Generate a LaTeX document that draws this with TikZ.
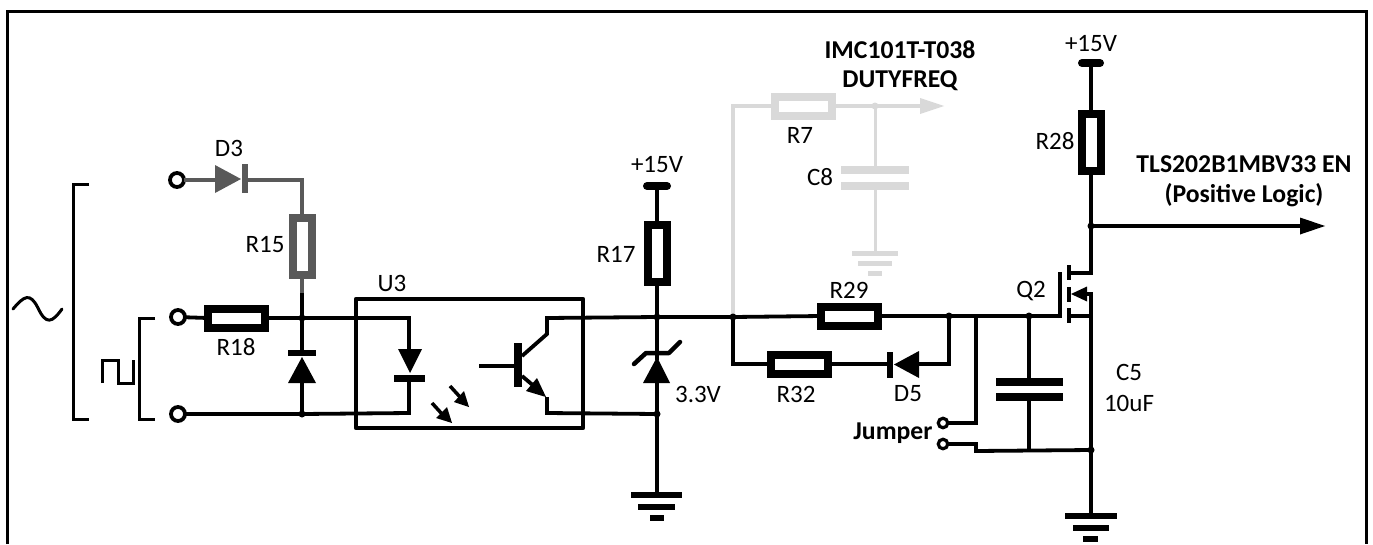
\documentclass[tikz,border=0pt]{standalone}
\usepackage{fontspec}
\setmainfont{Carlito}
\begin{document}
\begin{tikzpicture}[x=1pt,y=-1pt,
  font=\fontsize{25}{30}\selectfont,
  wire/.style={line width=3.8pt,line join=miter},
  thinw/.style={line width=3pt},
  lab/.style={inner sep=0pt,anchor=center},
  blab/.style={inner sep=0pt,anchor=center,font=\fontsize{25.7}{30}\selectfont\bfseries},
  hres/.style={draw,fill=white,line width=8pt,minimum width=57pt,minimum height=19pt,inner sep=0pt,outer sep=0pt},
  vres/.style={draw,fill=white,line width=8pt,minimum width=19pt,minimum height=57pt,inner sep=0pt,outer sep=0pt},
  term/.style={circle,draw,fill=white,line width=3.8pt,minimum size=14pt,inner sep=0pt,outer sep=0pt},
  smallterm/.style={circle,draw,fill=white,line width=3.2pt,minimum size=9.5pt,inner sep=0pt,outer sep=0pt},
  dot/.style={circle,fill,minimum size=7pt,inner sep=0pt,outer sep=0pt},
  plate/.style={line width=7.5pt},
  bar/.style={line width=6pt},
]
\useasboundingbox (0,0) rectangle (1373,544);
\definecolor{gr}{RGB}{89,89,89}
\definecolor{lg}{RGB}{217,217,217}
% frame
\draw[line width=3pt,line cap=butt] (7,544) -- (7,11) -- (1366,11) -- (1366,544);
% brackets and waveforms
\draw[thinw] (89,184) -- (73,184) -- (73,419) -- (89,419);
\draw[thinw] (155,318) -- (139,318) -- (139,419) -- (155,419);
\draw[thinw,line cap=round] (13,309) .. controls (24,296) and (30,292) .. (38,308) .. controls (46,325) and (52,323) .. (62,309);
\draw[thinw,line join=miter] (102,383) -- (102,360) -- (118,360) -- (118,383) -- (133,383) -- (133,360);

% coordinates
\coordinate (d3k) at (245,180);
\coordinate (d3c) at (302,180);
\coordinate (j1) at (302,318);
\coordinate (j2) at (302,414);
\coordinate (j2a) at (302,293);
\coordinate (ledt) at (409,318);
\coordinate (ledb) at (409,413);
\coordinate (cc) at (547,318);
\coordinate (ec) at (547,413);
\coordinate (j3) at (657,317);
\coordinate (j4) at (657,414);
\coordinate (j5) at (733,317);
\coordinate (j6) at (949,316);
\coordinate (j7) at (976,316);
\coordinate (j8) at (1029,316);
\coordinate (g) at (1060,316);
\coordinate (j9) at (1091,450);
\coordinate (j10) at (1091,226);
\coordinate (j11) at (875,106);
\coordinate (s) at (1091,316);
\coordinate (dr) at (1091,273);

% light-grey branch
\node[hres,draw=lg] (R7) at (803,106) {};
\draw[wire,lg] (j5) -- (733,106) -- (R7.west);
\draw[wire,lg] (R7.east) -- (j11) -- (922,106);
\fill[lg] (920,98) -- (944,106) -- (920,114) -- cycle;
\node[dot,lg] at (j11) {};
\coordinate (c8t) at (875,170);
\coordinate (c8b) at (875,186);
\coordinate (g8) at (875,253);
\draw[line width=3pt,lg] (j11) -- (c8t);
\draw[line width=3pt,lg] (c8b) -- (g8);
\draw[plate,lg] (841,170) -- (909,170);
\draw[plate,lg] (841,186) -- (909,186);
\draw[line width=5pt,lg] (852,253) -- (898,253);
\draw[line width=5pt,lg] (858,263) -- (892,263);
\draw[line width=5pt,lg] (868,273) -- (882,273);

% D3 / R15 (dark grey)
\node[term] (T1) at (177,180) {};
\node[vres,draw=gr] (R15) at (302,246) {};
\draw[wire,gr] (T1) -- (218,180);
\fill[gr] (215,165) -- (241,179) -- (215,193) -- cycle;
\draw[line width=5.5pt,gr] (245,164) -- (245,193);
\draw[wire,gr] (d3k) -- (d3c) -- (R15.north);
\draw[wire,gr] (R15.south) -- (j2a);
\draw[wire] (j2a) -- (j1);

% input
\node[term] (T2) at (178,317) {};
\node[term] (T3) at (178,414) {};
\node[hres] (R18) at (236,318) {};
\draw[wire] (T2) -- (R18.west);
\draw[wire] (R18.east) -- (j1) -- (ledt) -- (409,352);
\draw[wire] (j1) -- (302,353);
\draw[wire] (T3) -- (j2) -- (ledb) -- (409,378);
\draw[wire] (j2) -- (302,380);
\fill (302,357) -- (316,383) -- (288,383) -- cycle;
\draw[bar] (288,353) -- (316,353);
\node[dot] at (j1) {};
\node[dot] at (j2) {};

% U3 box
\draw[line width=4.5pt,line join=round] (356,299) rectangle (583,428);
% LED
\fill (398,349) -- (422,349) -- (410,373) -- cycle;
\draw[line width=7pt] (394,378) -- (425,378);
\coordinate (a1s) at (450,386); \coordinate (a1e) at (460,397);
\coordinate (a2s) at (432,403); \coordinate (a2e) at (442,414);
\draw[line width=3.5pt] (a1s) -- (a1e);
\draw[line width=3.5pt] (a2s) -- (a2e);
\fill (469,407) -- (454,402) -- (464,391) -- cycle;
\fill (452,423) -- (436,418) -- (447,407) -- cycle;
% transistor
\draw[wire] (479,366) -- (515,366);
\draw[line width=8pt] (518,343) -- (518,387);
\draw[wire,line join=miter] (j3) -- (cc) -- (547,334) -- (522,356);
\draw[wire] (j4) -- (ec) -- (547,397);
\draw[wire] (522,376) -- (535,387);
\fill (546,397) -- (526,391) -- (537,378) -- cycle;

% R17, supply, zener
\node[vres] (R17) at (657,253) {};
\coordinate (v1) at (657,186);
\draw[line width=8pt,line cap=round] (647,186) -- (667,186);
\draw[wire] (v1) -- (R17.north);
\draw[wire] (R17.south) -- (j3);
\draw[wire] (j3) -- (657,360);
\draw[wire] (657,380) -- (j4) -- (657,495);
\fill (657,357) -- (670,383) -- (643,383) -- cycle;
\draw[line width=4.5pt,line cap=round,line join=round] (634,364) -- (646,353) -- (669,353) -- (680,342);
\draw[bar] (631,495) -- (682,495);
\draw[bar] (638,507) -- (675,507);
\draw[bar] (650,518) -- (664,518);
\node[dot] at (j3) {};
\node[dot] at (j4) {};

% R29, R32, D5
\node[hres] (R29) at (849.5,316) {};
\node[hres] (R32) at (799,364) {};
\draw[wire] (j3) -- (j5) -- (R29.west);
\draw[wire] (R29.east) -- (j6) -- (j7) -- (j8) -- (g);
\draw[wire,line join=miter] (j5) -- (733,364) -- (R32.west);
\draw[wire] (R32.east) -- (890,364);
\draw[wire,line join=miter] (j6) -- (949,364) -- (917,364);
\fill (919,351) -- (919,378) -- (894,364.5) -- cycle;
\draw[line width=5.5pt] (890,352) -- (890,378);
\node[dot] at (j5) {};
\node[dot] at (j6) {};

% jumper
\node[smallterm] (J1) at (943,423) {};
\node[smallterm] (J2) at (943,444) {};
\draw[wire,line join=miter] (j7) -- (976,423) -- (J1);
\draw[wire,line join=miter] (J2) -- (976,444) -- (976,451) -- (j9);

% C5
\draw[wire] (j8) -- (1029,382);
\draw[wire] (1029,397) -- (1029,451);
\draw[plate] (996,382) -- (1063,382);
\draw[plate] (996,397) -- (1063,397);
\node[dot] at (j8) {};

% MOSFET
\draw[line width=4pt] (g) ++(0,2) -- (1060,272);
\draw[line width=4pt] (1069,265) -- (1069,280);
\draw[line width=4pt] (1069,287) -- (1069,302);
\draw[line width=4pt] (1069,308) -- (1069,323);
\draw[wire,line join=miter] (1069,273) -- (dr) -- (j10);
\draw[wire,line join=miter] (1080,294) -- (1091,294) -- (s) -- (j9) -- (1091,516);
\draw[wire] (1069,316) -- (s);
\fill (1071,294) -- (1087,286.5) -- (1087,301.5) -- cycle;
\draw[bar] (1065,516) -- (1117,516);
\draw[bar] (1073,528) -- (1109,528);
\draw[bar] (1083,539) -- (1098,539);
\node[dot] at (j9) {};

% R28 and output
\node[vres] (R28) at (1091,142.5) {};
\coordinate (v2) at (1091,63);
\draw[line width=8pt,line cap=round] (1082,63) -- (1100,63);
\draw[wire] (v2) -- (R28.north);
\draw[wire] (R28.south) -- (j10) -- (1302,226);
\fill (1300,217.5) -- (1325,226) -- (1300,234.5) -- cycle;
\node[dot] at (j10) {};

% labels
\node[lab] (tD3) at (229,148) {D3};
\node[lab] (tR15) at (265,245) {R15};
\node[lab] (tR18) at (236,347) {R18};
\node[lab] (tU3) at (392,283) {U3};
\node[lab] (tR17) at (616,254) {R17};
\node[lab] (tV1) at (657,165) {+15V};
\node[lab] (tZ) at (698,394) {3.3V};
\node[lab] (tR7) at (800,135) {R7};
\node[lab] (tC8) at (820,177) {C8};
\node[lab] (tR29) at (849,290) {R29};
\node[lab] (tR32) at (796,394) {R32};
\node[lab] (tD5) at (908,394) {D5};
\node[lab] (tQ2) at (1031,291) {Q2};
\node[lab] (tR28) at (1055,141) {R28};
\node[lab] (tV2) at (1091,44) {+15V};
\node[lab] (tC5) at (1129,372) {C5};
\node[lab] (t10) at (1129,403) {10uF};
\node[blab] (tJ) at (893,433) {Jumper};
\node[blab] (tI1) at (900,50) {IMC101T-T038};
\node[blab] (tI2) at (900,81) {DUTYFREQ};
\node[blab] (tT1) at (1244,164) {TLS202B1MBV33 EN};
\node[blab] (tT2) at (1244,195) {(Positive Logic)};
\end{tikzpicture}
\end{document}
